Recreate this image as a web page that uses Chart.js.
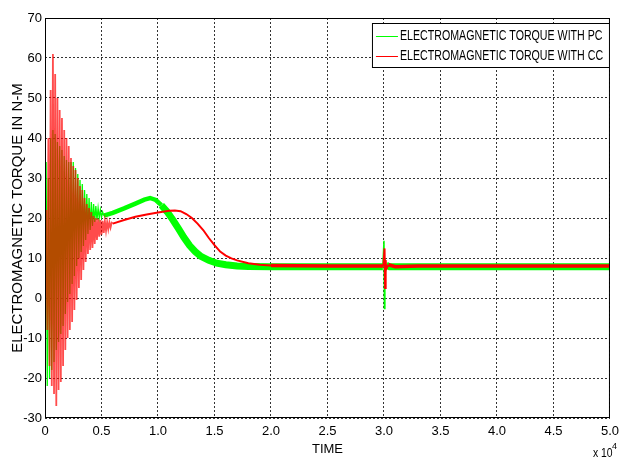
<!DOCTYPE html>
<html>
<head>
<meta charset="utf-8">
<script src="https://cdn.jsdelivr.net/npm/chart.js@4.4.1/dist/chart.umd.min.js"></script>
<style>
  body { margin: 0; background: #fff; }
  #box { width: 625px; height: 457px; }
</style>
</head>
<body>
<div id="box"><canvas id="grafico-torque" width="625" height="457"></canvas></div>
<script>
// time axis is in units of x 10^4
var ccLabel = 'ELECTROMAGNETIC TORQUE WITH CC';
var pcLabel = 'ELECTROMAGNETIC TORQUE WITH PC';

var ccTime = [
	0, 0.01, 0.02, 0.03, 0.04, 0.05, 0.06, 0.07, 0.08, 0.09,
	0.10, 0.11, 0.12, 0.13, 0.14, 0.15, 0.16, 0.17, 0.18, 0.19,
	0.20, 0.21, 0.22, 0.23, 0.24, 0.25, 0.26, 0.27, 0.28, 0.29,
	0.30, 0.31, 0.32, 0.33, 0.34, 0.35, 0.36, 0.37, 0.38, 0.39,
	0.40, 0.41, 0.42, 0.43, 0.44, 0.45, 0.46, 0.47, 0.48, 0.49,
	0.50, 0.51, 0.52, 0.53, 0.54, 0.55, 0.56, 0.57, 0.58, 0.59,
	0.60, 0.70, 0.80, 0.90, 1.00, 1.10, 1.15, 1.20, 1.25, 1.30,
	1.35, 1.40, 1.45, 1.50, 1.55, 1.60, 1.65, 1.70, 1.80, 1.90,
	2.00, 2.50, 2.995, 3.005, 3.01, 3.015, 3.02, 3.04, 3.10, 3.30,
	4.00, 5.00
];
var ccTorque = [
	0, 22, -8, 40, -17, 52, -22, 61, -24, 56,
	-27, 50, -23, 47, -21, 45, -17, 42, -13, 40,
	-10, 38, -8, 35, -6, 33, -3, 32, -0.5, 30,
	2.5, 28, 4.5, 27, 7, 25, 9, 23.5, 11, 22.5,
	12, 21.5, 12.5, 20.5, 13.5, 20, 14.5, 19.8, 15.3, 19.5,
	15.8, 19.3, 16.3, 19.2, 16.8, 19.0, 17.2, 18.9, 17.6, 18.8,
	18.6, 19.5, 20.3, 20.9, 21.4, 21.8, 21.9, 21.7, 21.0, 20.0,
	18.6, 17.0, 15.0, 13.2, 11.6, 10.6, 9.9, 9.4, 8.7, 8.3,
	8.1, 8.0, 8.0, 12.4, 2.5, 9.5, 7.2, 8.3, 7.8, 8.0,
	8.0, 8.0
];

var pcTime = [
	0, 0.01, 0.02, 0.03, 0.04, 0.05, 0.06, 0.07, 0.08, 0.09,
	0.10, 0.11, 0.12, 0.13, 0.14, 0.15, 0.16, 0.17, 0.18, 0.19,
	0.20, 0.21, 0.22, 0.23, 0.24, 0.25, 0.26, 0.27, 0.28, 0.29,
	0.30, 0.31, 0.32, 0.33, 0.34, 0.35, 0.36, 0.37, 0.38, 0.39,
	0.40, 0.41, 0.42, 0.43, 0.44, 0.45, 0.46, 0.47, 0.48, 0.49,
	0.50, 0.51, 0.52, 0.60, 0.70, 0.80, 0.88, 0.93, 0.98, 1.03,
	1.08, 1.13, 1.18, 1.23, 1.28, 1.33, 1.38, 1.45, 1.52, 1.60,
	1.70, 1.80, 2.00, 2.50, 2.99, 3.00, 3.004, 3.008, 3.012, 3.02,
	3.05, 4.00, 5.00
];
var pcTorque = [
	0, 34, -22, 30, -20, 40, -18, 42, -16, 41,
	-13, 39, -11, 38, -9, 37, -7, 35.5, -4, 34.5,
	-1, 34, 1, 34, 3.5, 34, 5.5, 32.5, 8, 31,
	10, 29.5, 11.5, 28.5, 13, 27, 14.5, 26, 16, 25,
	17, 24, 18, 23.5, 19, 23, 19.5, 22.5, 20, 22,
	20.2, 21.5, 20.6, 21.3, 22.4, 23.6, 24.6, 25.0, 24.5, 23.2,
	21.6, 19.6, 17.4, 15.1, 13.1, 11.6, 10.4, 9.4, 8.7, 8.3,
	8.0, 7.9, 7.8, 7.8, 7.8, 14.3, -2.6, 10, 6.5, 8.2,
	7.8, 7.8, 7.8
];

function pares(tempo, valores) {
	return tempo.map(function (t, i) { return { x: t, y: valores[i] }; });
}

var fonte = "'Liberation Sans', Arial, sans-serif";
Chart.defaults.font.family = fonte;
Chart.defaults.color = '#000';

var legendaCaixa = {
	id: 'legendaCaixa',
	afterDraw: function (chart) {
		var ctx = chart.ctx;
		var area = chart.chartArea;
		// plot frame
		ctx.save();
		ctx.strokeStyle = '#000';
		ctx.lineWidth = 1;
		ctx.strokeRect(area.left + 0.5, area.top + 0.5, area.right - area.left - 1, area.bottom - area.top - 1);

		// legend box, upper right
		var w = 238, h = 45;
		var x = area.right - w, y = area.top + 5;
		ctx.fillStyle = '#fff';
		ctx.fillRect(x, y, w, h);
		ctx.strokeRect(x + 0.5, y + 0.5, w - 1, h - 1);
		var linhas = [
			{ texto: pcLabel, cor: 'rgb(0,255,0)' },
			{ texto: ccLabel, cor: 'rgb(255,0,0)' }
		];
		ctx.font = "14px " + fonte;
		ctx.textBaseline = 'middle';
		linhas.forEach(function (l, i) {
			var ly = y + 13 + i * 20;
			ctx.strokeStyle = l.cor;
			ctx.beginPath();
			ctx.moveTo(x + 4, ly + 0.5);
			ctx.lineTo(x + 26, ly + 0.5);
			ctx.stroke();
			ctx.fillStyle = '#000';
			// narrow lettering like the original
			ctx.save();
			ctx.translate(x + 28, ly);
			ctx.scale(0.76, 1);
			ctx.fillText(l.texto, 0, 0);
			ctx.restore();
		});

		// x 10^4 multiplier, bottom right
		ctx.fillStyle = '#000';
		ctx.font = "13px " + fonte;
		ctx.textBaseline = 'top';
		ctx.save();
		ctx.translate(593, 447);
		ctx.scale(0.8, 1);
		ctx.fillText('x 10', 0, 0);
		ctx.restore();
		ctx.font = "9px " + fonte;
		ctx.fillText('4', 612, 442);
		ctx.restore();
	}
};

var grafico = document.getElementById('grafico-torque').getContext('2d');
var dados = {
	type: 'line',
	data: {
		datasets: [{
				label: ccLabel,
				data: pares(ccTime, ccTorque),
				borderColor: 'rgb(255,0,0)',
				borderWidth: 2,
				pointRadius: 0,
				tension: 0,
				segment: {
					borderWidth: function (ctx) {
						var t = ctx.p0.parsed.x;
						if (t < 0.6) return 1.8;
						if (t < 1.95) return 2;
						if (t > 2.99 && t < 3.04) return 2;
						return 3.5;
					},
					borderColor: function (ctx) {
						// dense ripple looks pinkish in the original
						return ctx.p0.parsed.x < 0.6 ? 'rgba(255,0,0,0.7)' : 'rgb(255,0,0)';
					}
				}
			},
			{
				label: pcLabel,
				data: pares(pcTime, pcTorque),
				borderColor: 'rgb(0,255,0)',
				borderWidth: 5,
				pointRadius: 0,
				tension: 0,
				segment: {
					borderWidth: function (ctx) {
						var t = ctx.p0.parsed.x;
						if (t < 0.52) return 1.3;
						if (t < 1.0) return 4.5;
						if (t > 2.985 && t < 3.02) return 1.5;
						return 7;
					}
				}
		}]
	},
	options: {
		responsive: false,
		animation: false,
		layout: { padding: { top: 18, right: 8, left: 0, bottom: 0 } },
		plugins: {
			legend: { display: false },
			tooltip: { enabled: false }
		},
		scales: {
			x: {
				type: 'linear',
				min: 0,
				max: 5,
				ticks: { stepSize: 0.5, padding: 6, font: { size: 13 }, maxRotation: 0 },
				grid: { color: '#333', drawTicks: false },
				border: { display: false, dash: [2, 2] },
				title: { display: true, text: 'TIME', font: { size: 13 }, padding: { top: 0, bottom: 0 } },
				afterFit: function (s) { s.height = 39; }
			},
			y: {
				min: -30,
				max: 70,
				ticks: { stepSize: 10, padding: 3, font: { size: 13 } },
				grid: { color: '#333', drawTicks: false },
				border: { display: false, dash: [2, 2] },
				title: { display: true, text: 'ELECTROMAGNETIC TORQUE IN N-M', font: { size: 15 }, padding: { top: 9, bottom: 0 } },
				afterFit: function (s) { s.width = 45; }
			}
		}
	},
	plugins: [legendaCaixa]
};
new Chart(grafico, dados);
</script>
</body>
</html>
